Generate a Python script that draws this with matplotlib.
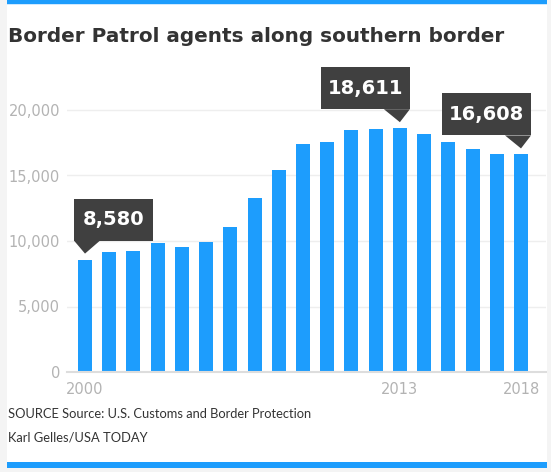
import matplotlib.pyplot as plt
import matplotlib.transforms as mtransforms
from matplotlib.patches import Rectangle, Polygon

# data
years = list(range(2000, 2019))
agents = [8580, 9147, 9239, 9840, 9506, 9891, 11032, 13297, 15442, 17399,
          17535, 18506, 18516, 18611, 18156, 17522, 17026, 16605, 16608]
yticks = [0, 5000, 10000, 15000, 20000]
xtick_years = [2000, 2013, 2018]
callout_years = [2000, 2013, 2018]
callout_sides = ['left', 'right', 'right']

title = "Border Patrol agents along southern border"
source = "SOURCE Source: U.S. Customs and Border Protection"
credit = "Karl Gelles/USA TODAY"

W, H = 551, 472
DPI = 100
blue = '#1d9dfd'
dark = '#404040'
gray_txt = '#b3b3b3'

plt.rcParams['font.family'] = ['DejaVu Sans']

fig = plt.figure(figsize=(W / DPI, H / DPI), dpi=DPI, facecolor='#f4f4f4')


def fx(px):
    return px / W


def fy(py):
    return 1 - py / H


# white card and blue rules
fig.patches.append(Rectangle((fx(7), fy(468)), fx(540), 468 / H, transform=fig.transFigure,
                             facecolor='white', edgecolor='none', zorder=0))
fig.patches.append(Rectangle((fx(7), fy(4)), fx(540), 4 / H, transform=fig.transFigure,
                             facecolor=blue, edgecolor='none', zorder=1))
fig.patches.append(Rectangle((fx(7), fy(5)), fx(540), 1 / H, transform=fig.transFigure,
                             facecolor='#cfe9ff', edgecolor='none', zorder=1))
fig.patches.append(Rectangle((fx(7), fy(468)), fx(540), 6 / H, transform=fig.transFigure,
                             facecolor=blue, edgecolor='none', zorder=1))

# axes placement: bar 0 center at x=85px, bar 18 at 521px, baseline at y=372px
step = (521 - 85) / 18
ax_left, ax_right = 67, 546
xmin = -(85 - ax_left) / step
xmax = (ax_right - 85) / step
ymax = 21000
px_per_unit = (372 - 110) / 20000
ax_h = ymax * px_per_unit
ax = fig.add_axes([fx(ax_left), fy(372), fx(ax_right - ax_left), ax_h / H])
ax.set_zorder(3)
ax.set_facecolor('none')

x = list(range(len(years)))
ax.bar(x, agents, width=0.58, color=blue, zorder=2)

ax.set_xlim(xmin, xmax)
ax.set_ylim(0, ymax)
ax.set_yticks(yticks)
ax.set_yticklabels([f"{t:,}" for t in yticks])
ax.set_xticks([years.index(y) for y in xtick_years])
ax.set_xticklabels([str(y) for y in xtick_years])
ax.tick_params(axis='y', length=0, pad=5, labelsize=10.5, labelcolor=gray_txt)
ax.tick_params(axis='x', length=0, pad=7.5, labelsize=10.5, labelcolor=gray_txt)
ax.yaxis.grid(True, color='#eeeeee', lw=1)
ax.set_axisbelow(True)
for s in ['top', 'right', 'left']:
    ax.spines[s].set_visible(False)
ax.spines['bottom'].set_color('#dddddd')
ax.spines['bottom'].set_linewidth(1.5)

# callouts
for yr, side in zip(callout_years, callout_sides):
    i = years.index(yr)
    v = agents[i]
    label = f"{v:,}"
    bw = 79 if len(label) == 5 else 89
    if side == 'left':
        bl, br = -11, -11 + bw
        tail = [(-11, 19), (15, 19), (0, 6)]
    else:
        bl, br = 10 - bw, 10
        tail = [(-16, 19), (10, 19), (0, 6)]
    trans = fig.dpi_scale_trans + mtransforms.ScaledTranslation(i, v, ax.transData)
    box = [(bl, 19), (br, 19), (br, 61), (bl, 61)]
    ax.add_patch(Polygon([(a / DPI, b / DPI) for a, b in box], closed=True,
                         transform=trans, facecolor=dark, edgecolor='none',
                         clip_on=False, zorder=5))
    ax.add_patch(Polygon([(a / DPI, b / DPI) for a, b in tail], closed=True,
                         transform=trans, facecolor=dark, edgecolor='none',
                         clip_on=False, zorder=5))
    ax.text((bl + br) / 2 / DPI, 40 / DPI, label, transform=trans, ha='center',
            va='center', color='white', fontsize=14, fontweight='bold',
            zorder=6, clip_on=False)

fig.text(fx(8), fy(36), title, ha='left', va='center', fontsize=14.4,
         fontweight='bold', color='#333333')
fig.text(fx(8), fy(414), source, ha='left', va='center', fontsize=9.3,
         color='#333333', family=['Lato', 'DejaVu Sans'])
fig.text(fx(8), fy(438), credit, ha='left', va='center', fontsize=9.3,
         color='#333333', family=['Lato', 'DejaVu Sans'])

fig.savefig('out.png', dpi=DPI, facecolor=fig.get_facecolor())
